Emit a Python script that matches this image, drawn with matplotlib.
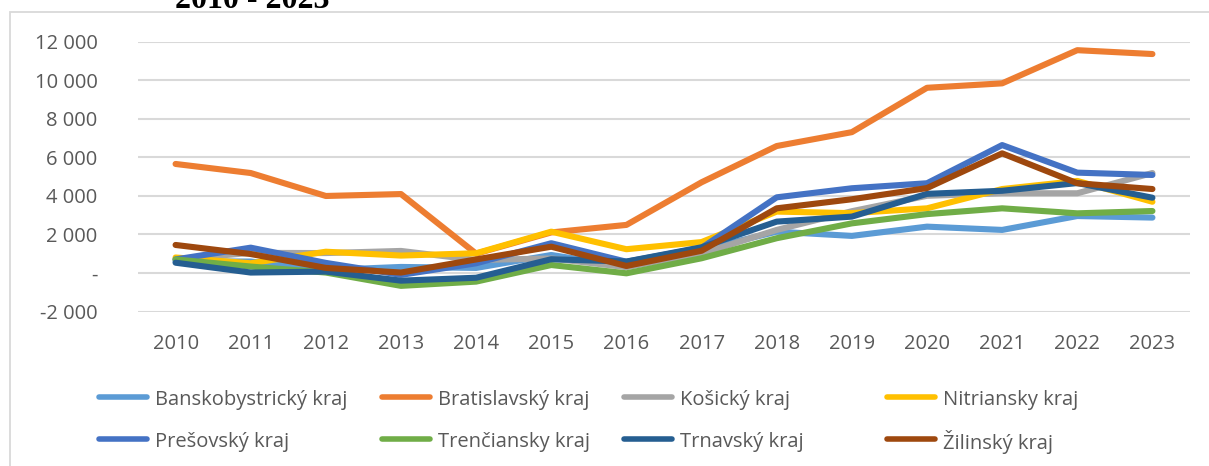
import matplotlib
matplotlib.use('Agg')
import matplotlib.pyplot as plt
import matplotlib.patches as mpatches
from matplotlib.lines import Line2D
from matplotlib.ticker import FuncFormatter
import numpy as np

YEARS = [2010, 2011, 2012, 2013, 2014, 2015, 2016,
         2017, 2018, 2019, 2020, 2021, 2022, 2023]

REGIONS = ['Banskobystrický kraj', 'Bratislavský kraj', 'Košický kraj', 'Nitriansky kraj',
           'Prešovský kraj', 'Trenčiansky kraj', 'Trnavský kraj', 'Žilinský kraj']

banskobystricky = [600, 590, 150, 310, 260, 930, 330, 1190, 2140, 1920, 2400, 2230, 2950, 2870]
bratislavsky    = [5650, 5180, 3990, 4090, 1000, 2100, 2490, 4700, 6580, 7300, 9600, 9830, 11550, 11350]
kosicky         = [700, 1040, 1030, 1140, 670, 750, 300, 1000, 2230, 3200, 4000, 4130, 4130, 5180]
nitriansky      = [800, 500, 1100, 900, 1020, 2140, 1230, 1600, 3180, 3100, 3350, 4350, 4770, 3690]
presovsky       = [700, 1310, 520, -100, 500, 1540, 580, 1300, 3920, 4390, 4650, 6630, 5200, 5080]
trenciansky     = [700, 330, 20, -670, -450, 410, -20, 760, 1800, 2570, 3050, 3350, 3090, 3210]
trnavsky        = [530, 20, 70, -400, -250, 710, 590, 1330, 2660, 2920, 4100, 4260, 4660, 3900]
zilinsky        = [1450, 980, 260, 20, 700, 1360, 360, 1150, 3350, 3820, 4400, 6200, 4650, 4350]

SERIES = [banskobystricky, bratislavsky, kosicky, nitriansky,
          presovsky, trenciansky, trnavsky, zilinsky]
COLORS = ['#5B9BD5', '#ED7D31', '#A5A5A5', '#FFC000',
          '#4472C4', '#70AD47', '#255E91', '#9E480E']

W, H = 1209, 466
TXT = '#595959'
GRID = '#D9D9D9'


def thousands(v, _):
    if v == 0:
        return '-'
    return f'{v:,.0f}'.replace(',', ' ')


fig = plt.figure(figsize=(W / 100, H / 100), dpi=100)
ax = fig.add_axes([138 / W, 1 - 311.5 / H, (1190 - 138) / W, (311.5 - 41.5) / H])

x = np.arange(len(YEARS))
for vals, c, name in zip(SERIES, COLORS, REGIONS):
    ax.plot(x, vals, color=c, lw=4.4, solid_capstyle='round',
            solid_joinstyle='round', label=name)

ax.set_xlim(-0.5, len(YEARS) - 0.5)
ax.set_ylim(-2000, 12000)
ax.set_yticks(np.arange(-2000, 12001, 2000))
ax.yaxis.set_major_formatter(FuncFormatter(thousands))
ax.set_xticks(x)
ax.set_xticklabels([str(y) for y in YEARS])
ax.yaxis.grid(True, color=GRID, lw=1.5)
ax.set_axisbelow(True)
for s in ax.spines.values():
    s.set_visible(False)
ax.tick_params(axis='both', length=0, labelsize=14.5, colors=TXT)
ax.tick_params(axis='x', pad=16)
ax.tick_params(axis='y', pad=29)
for lbl in ax.get_xticklabels() + ax.get_yticklabels():
    lbl.set_fontfamily('Open Sans')

# legend drawn by hand: four columns by two rows, labels on a shared baseline
col_x = [99, 382, 624, 887]
row_y = [397, 439]
for i, (name, c) in enumerate(zip(REGIONS, COLORS)):
    x0 = col_x[i % 4]
    yy = 1 - row_y[i // 4] / H
    fig.add_artist(Line2D([x0 / W, (x0 + 48) / W], [yy, yy], transform=fig.transFigure,
                          color=c, lw=4.0, solid_capstyle='round'))
    fig.text((x0 + 56) / W, yy, name, ha='left', va='center_baseline',
             fontsize=14.5, family='Open Sans', color=TXT)

# chart frame
fig.patches.append(mpatches.Rectangle((10 / W, -0.1), 1.2, 1.1 - 12 / H,
                                      transform=fig.transFigure, fill=False,
                                      ec=GRID, lw=1.3))

fig.text(175 / W, 1 - 7.5 / H, '2010 - 2023', ha='left', va='baseline',
         fontsize=23, fontweight='bold', family='Liberation Serif')

fig.savefig('out.png', dpi=100)
